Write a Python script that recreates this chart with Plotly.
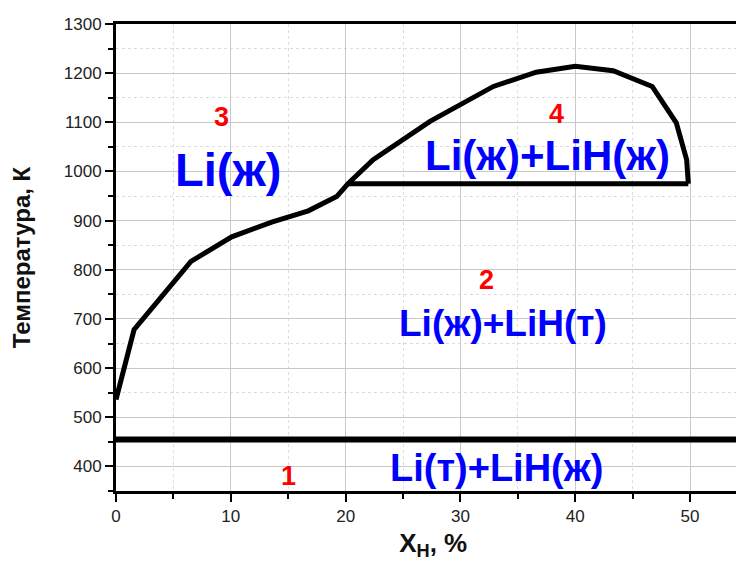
import plotly.graph_objects as go

# Phase boundary: liquidus + dome (X_H %, T K)
curve_x = [0, 1.57, 6.53, 10.08, 13.56, 16.75, 19.22, 20.2, 22.4, 27.35, 32.87, 36.6, 40.0, 43.3, 46.7, 48.8, 49.7, 49.85]
curve_t = [536, 678, 817, 867, 897, 920, 949, 975, 1024, 1102, 1173, 1202, 1214, 1205, 1173, 1099, 1024, 975]

# Monotectic line
mono_x = [20.2, 49.85]
mono_t = [975, 975]

# Lithium solidification line
solid_x = [0, 56]
solid_t = [455, 455]

# Region labels
num_labels = ["1", "2", "3", "4"]
num_x = [15.0, 32.3, 9.2, 38.4]
num_t = [381, 780, 1110, 1116]

phase_labels = ["Li(т)+LiH(ж)", "Li(ж)+LiH(т)", "Li(ж)", "Li(ж)+LiH(ж)"]
phase_x = [33.1, 33.67, 9.76, 37.6]
phase_t = [396, 691, 1004, 1032]
phase_sizes = [38, 37, 47, 42]

FONT = "Arial, Liberation Sans, sans-serif"

fig = go.Figure()
fig.add_trace(go.Scatter(x=curve_x, y=curve_t, mode="lines",
                         line=dict(color="black", width=5), showlegend=False))
fig.add_trace(go.Scatter(x=mono_x, y=mono_t, mode="lines",
                         line=dict(color="black", width=5), showlegend=False))
fig.add_trace(go.Scatter(x=solid_x, y=solid_t, mode="lines",
                         line=dict(color="black", width=6), showlegend=False))

for s, x, y in zip(num_labels, num_x, num_t):
    fig.add_annotation(x=x, y=y, text="<b>%s</b>" % s, showarrow=False,
                       font=dict(family=FONT, size=27, color="#ff0000"))
for s, x, y, sz in zip(phase_labels, phase_x, phase_t, phase_sizes):
    fig.add_annotation(x=x, y=y, text="<b>%s</b>" % s, showarrow=False,
                       font=dict(family=FONT, size=sz, color="#0000ff"))

fig.update_layout(
    width=736, height=561,
    margin=dict(l=116, r=0, t=24, b=70),
    paper_bgcolor="white", plot_bgcolor="white",
    font=dict(family=FONT, color="#222"),
)
fig.update_xaxes(
    range=[0, 54], tickmode="linear", tick0=0, dtick=10, automargin=False,
    showline=True, linecolor="black", linewidth=3, mirror=True,
    ticks="outside", ticklen=8, tickwidth=2, tickcolor="black",
    tickfont=dict(size=17, color="#222"),
    showgrid=True, gridcolor="#c8c8c8", gridwidth=1, zeroline=False,
    minor=dict(dtick=5, ticks="outside", ticklen=5, tickwidth=2, tickcolor="black",
               showgrid=True, gridcolor="#dddddd", griddash="dot", gridwidth=1),
    title=dict(text="&nbsp;&nbsp;<b>X<sub>H</sub>, %</b>", font=dict(size=26, color="#111"), standoff=19),
)
fig.update_yaxes(
    range=[350, 1300], tickmode="linear", tick0=400, dtick=100, automargin=False,
    showline=True, linecolor="black", linewidth=3,
    ticks="outside", ticklen=8, tickwidth=2, tickcolor="black",
    tickfont=dict(size=17, color="#222"),
    showgrid=True, gridcolor="#c8c8c8", gridwidth=1, zeroline=False,
    minor=dict(dtick=50, ticks="outside", ticklen=5, tickwidth=2, tickcolor="black",
               showgrid=True, gridcolor="#dddddd", griddash="dot", gridwidth=1),
    title=dict(text="<b>Температура, К</b>", font=dict(size=24, color="#111"), standoff=27),
)

fig.write_html("out.html")
